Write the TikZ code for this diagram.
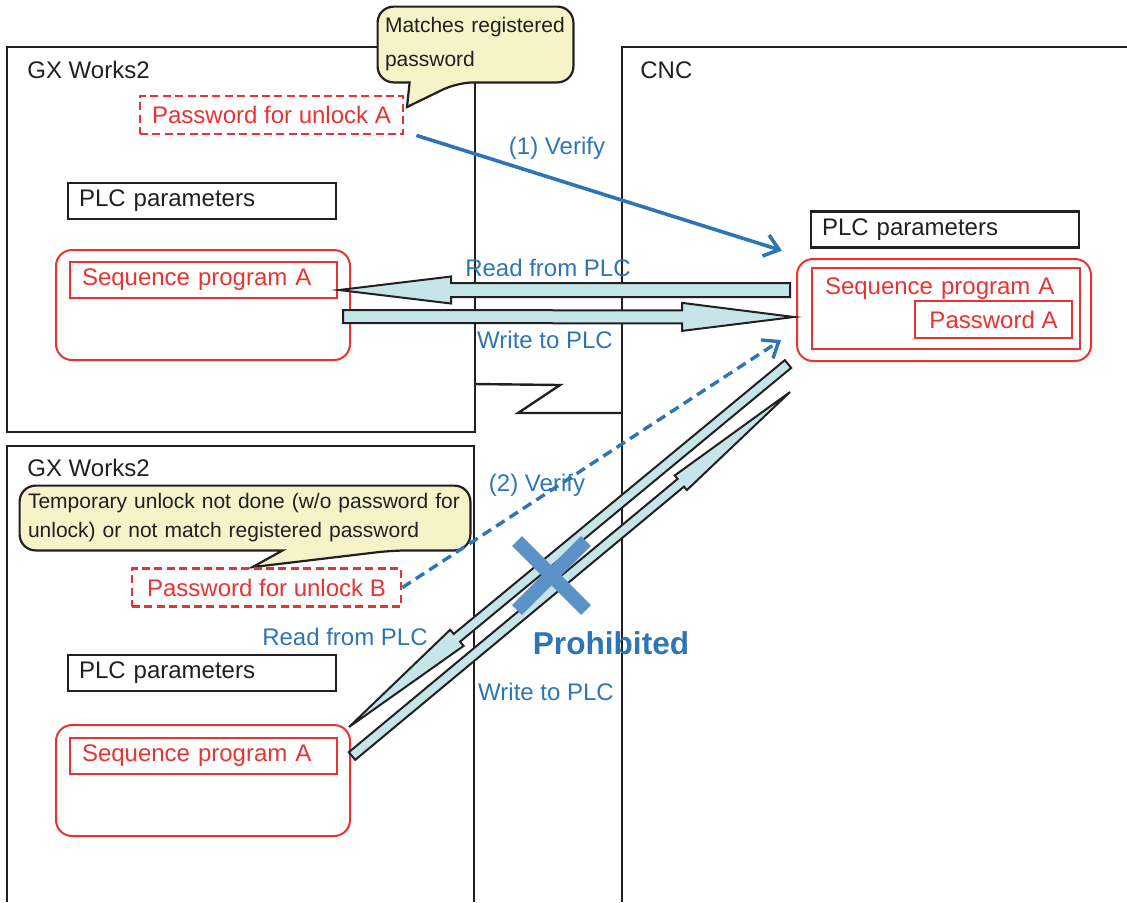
\documentclass[tikz,border=0pt]{standalone}
\usepackage{fontspec}
\setmainfont{Liberation Sans}
\usepackage{tikz}
\usepackage{xcolor}
\usetikzlibrary{arrows.meta,positioning,calc,backgrounds}

\definecolor{ink}{RGB}{35,31,32}
\definecolor{pwred}{RGB}{233,51,51}
\definecolor{linkblue}{RGB}{46,117,182}
\definecolor{crossblue}{RGB}{91,147,200}
\definecolor{pipefill}{RGB}{197,229,233}
\definecolor{notefill}{RGB}{245,243,199}

\newcommand\fatarrow[5]{%
  \coordinate (fa-h) at ($(#2)!#5!(#1)$);
  \draw[fatarr] ($(#1)!#3!90:(#2)$) -- ($(fa-h)!#3!-90:(#1)$) -- ($(fa-h)!#4!-90:(#1)$)
    -- (#2) -- ($(fa-h)!#4!90:(#1)$) -- ($(fa-h)!#3!90:(#1)$) -- ($(#1)!#3!-90:(#2)$) -- cycle;
}

\begin{document}
\begin{tikzpicture}[
      x=0.5pt, y=-0.5pt,
      font=\fontsize{12}{14}\selectfont,
      >={Straight Barb[length=7pt,width=11pt]},
      win/.style={draw=ink, line width=1.2pt},
      winlbl/.style={anchor=west, inner sep=0pt, text=ink},
      parbox/.style={draw=ink, line width=1.1pt, text=ink, align=left,
        text width=123pt, inner xsep=5.5pt, inner ysep=0pt, minimum height=18pt},
      seqbox/.style={draw=pwred, line width=1pt, text=pwred, align=left,
        inner xsep=6pt, inner ysep=0pt, minimum height=18pt},
      grp/.style={draw=pwred, line width=1pt, rounded corners=8pt,
        minimum width=147pt, minimum height=55pt},
      pwbox/.style={draw=pwred, line width=1.4pt, dash pattern=on 4pt off 2.2pt,
        text=pwred, minimum height=19pt},
      note/.style={text=ink, align=left, inner xsep=3.5pt,
        font=\fontsize{10.5}{17}\selectfont},
      notebox/.style={draw=ink, fill=notefill, line width=1.1pt},
      lbl/.style={text=linkblue},
      verify/.style={->, draw=linkblue, line width=1.8pt},
      fatarr/.style={draw=ink, fill=pipefill, line width=1pt}
    ]
    \useasboundingbox (0,0) rectangle (1127,902);

    \begin{scope}[on background layer]
      \draw[win] (7,47) rectangle (475,432);
      \draw[win] (7,902) -- (7,446) -- (474,446) -- (474,902);
      \draw[win] (1127,47) -- (622,47) -- (622,902);
      \draw[win] (475,384) -- (560,385) -- (518,413) -- (622,413);
    \end{scope}

    \node[winlbl] (gxTopLbl) at (27,70) {GX Works2};
    \node[winlbl] (cncLbl) at (640,70) {CNC};
    \node[winlbl] (gxBotLbl) at (27,468) {GX Works2};

    \node[pwbox, minimum width=131.5pt] (pwA) at (271.5,115) {Password for unlock A};
    \node[parbox] (parTop) at (202,201) {PLC parameters};
    \node[grp] (grpTop) at (203,305) {};
    \node[seqbox, text width=121.5pt] (seqTop) at (203.5,280) {Sequence program A};

    \node[parbox] (parCnc) at (945,229.5) {PLC parameters};
    \node[grp, minimum height=51pt] (grpCnc) at (944,310) {};
    \node[seqbox, text width=121pt, inner xsep=6.5pt, inner ysep=4.5pt,
      text height=9pt, text depth=22.5pt, minimum height=0pt] (seqCnc) at (946,308) {Sequence program A};
    \node[seqbox, align=center, inner xsep=0pt, minimum width=78.5pt,
      minimum height=18.5pt] (pwCnc) at (993.5,319.5) {Password A};

    \node[pwbox, minimum width=134.5pt] (pwB) at (266.5,587.5) {Password for unlock B};
    \node[parbox] (parBot) at (202,673) {PLC parameters};
    \node[grp, minimum height=55.5pt] (grpBot) at (203,780.5) {};
    \node[seqbox, text width=121.5pt] (seqBot) at (203.5,755.5) {Sequence program A};

    \node[note, text width=90.5pt, minimum height=37.5pt] (note1) at (475.5,44.5)
      {Matches registered\\password};
    \node[note, text width=217pt, inner xsep=4pt, minimum height=32pt,
      font=\fontsize{10.5}{14.5}\selectfont] (note2) at (245,518)
      {Temporary unlock not done (w/o password for\\unlock) or not match registered password};
    \coordinate (tip1) at (407,107);
    \coordinate (tip2) at ($(pwB.north)+(-14,0)$);

    \begin{scope}[on background layer]
      \draw[notebox] (note1.west) [rounded corners=8pt] -- (note1.north west) -- (note1.north east)
        -- (note1.south east) -- ($(note1.south west)+(80,0)$) [sharp corners] -- (tip1)
        -- ($(note1.south west)+(32,0)$) [rounded corners=8pt] -- (note1.south west) -- cycle;
      \draw[notebox] (note2.west) [rounded corners=8pt] -- (note2.north west) -- (note2.north east)
        -- (note2.south east) -- ($(note2.south west)+(373,0)$) [sharp corners] -- (tip2)
        -- ($(note2.south west)+(263,0)$) [rounded corners=8pt] -- (note2.south west) -- cycle;
    \end{scope}

    \coordinate (v1From) at ($(pwA.south east)+(12,0)$);
    \coordinate (v1To) at ($(parCnc.south west)+(-28,2)$);
    \coordinate (v2To) at ($(grpCnc.west)+(-15,30)$);
    \coordinate (rdTail) at ($(grpCnc.west)+(-6,-20)$);
    \coordinate (rdTip) at ($(grpTop.east)+(-12,-15)$);
    \coordinate (wrTail) at ($(grpTop.east)+(-8,11.5)$);
    \coordinate (wrTip) at ($(grpCnc.west)+(-2,7)$);
    \coordinate (rd2Tail) at (788,364);
    \coordinate (rd2Tip) at ($(grpBot.north east)+(-2,3)$);
    \coordinate (wr2Tail) at ($(grpBot.north east)+(1,32)$);
    \coordinate (wr2Tip) at (790,392);

    \fatarrow{rdTail}{rdTip}{3.5pt}{6.75pt}{56pt}
    \fatarrow{wrTail}{wrTip}{3.25pt}{7pt}{56pt}
    \fatarrow{rd2Tail}{rd2Tip}{2.5pt}{5.25pt}{70pt}
    \fatarrow{wr2Tail}{wr2Tip}{2.5pt}{4.75pt}{71pt}

    \draw[verify] (v1From) -- (v1To);
    \draw[verify, line width=1.7pt, dash pattern=on 5pt off 3pt] (pwB.east) -- (v2To);

    \draw[crossblue, line width=7pt] (517,541) -- (586,610) (586,541) -- (517,610);

    \node[lbl] (v1Lbl) at (557,148) {(1) Verify};
    \node[lbl] (rdLbl) at (548,268) {Read from PLC};
    \node[lbl] (wrLbl) at (545,340) {Write to PLC};
    \node[lbl] (v2Lbl) at (537,485) {(2) Verify};
    \node[lbl] (rd2Lbl) at (345,637) {Read from PLC};
    \node[lbl] (wr2Lbl) at (546,692) {Write to PLC};
    \node[lbl, font=\fontsize{15.8}{18}\selectfont\bfseries] (noLbl) at (611,643) {Prohibited};
  \end{tikzpicture}
\end{document}
